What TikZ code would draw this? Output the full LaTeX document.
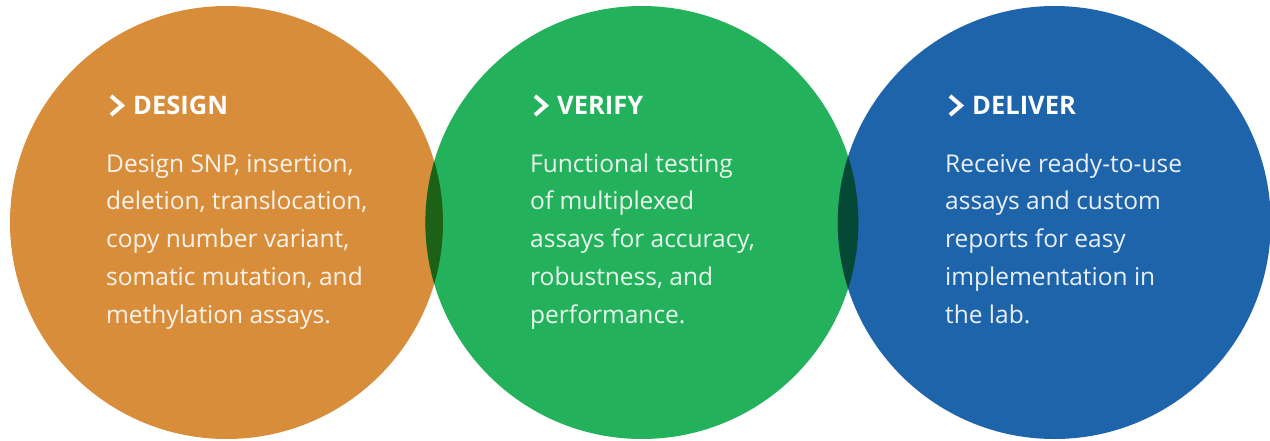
\documentclass[tikz,border=0pt]{standalone}
\usepackage{fontspec}
\setmainfont{Open Sans}
\usetikzlibrary{positioning}

\definecolor{designorange}{HTML}{D88D3B}
\definecolor{verifygreen}{HTML}{23B25B}
\definecolor{deliverblue}{HTML}{1E64AA}
\definecolor{overlapgreen}{HTML}{1C6116}
\definecolor{overlapteal}{HTML}{064836}

\begin{document}
\begin{tikzpicture}[x=1pt,y=-1pt,
  phase/.style={circle, minimum size=433pt, inner sep=0pt},
  phasetitle/.style={anchor=base west, inner sep=0pt, text=white,
    font=\bfseries\fontsize{25.5}{28}\selectfont},
  phasebody/.style={anchor=base west, inner sep=0pt, align=left,
    text=white, text opacity=0.9, font=\fontsize{24.5}{37.75}\selectfont},
  chevron/.style={white, line width=4pt, miter limit=10}]
  \useasboundingbox (0,0) rectangle (1270,440);

  % les trois disques
  \node[phase, fill=designorange] (design) at (226.5,222.5) {};
  \node[phase, fill=verifygreen, right=-18pt of design] (verify) {};
  \node[phase, fill=deliverblue, right=-21pt of verify] (deliver) {};

  % zones de recouvrement
  \begin{scope}
    \clip (design.center) circle (216.5);
    \fill[overlapgreen] (verify.center) circle (216.5);
  \end{scope}
  \begin{scope}
    \clip (verify.center) circle (216.5);
    \fill[overlapteal] (deliver.center) circle (216.5);
  \end{scope}

  % titres avec chevron
  \foreach \name/\x/\head in {design/133/DESIGN, verify/557/VERIFY, deliver/972/DELIVER}{
    \node[phasetitle] (\name title) at (\x,114) {\head};
    \draw[chevron] (\x-22,96) -- (\x-11,105.5) -- (\x-22,115);
  }

  % textes (ancre = ligne de base de la derniere ligne)
  \node[phasebody] (designtext) at (106,323) {Design SNP, insertion,\\deletion, translocation,\\copy number variant,\\somatic mutation, and\\methylation assays.};
  \node[phasebody] (verifytext) at (530,323) {Functional testing\\of multiplexed\\assays for accuracy,\\robustness, and\\performance.};
  \node[phasebody] (delivertext) at (945,323) {Receive ready-to-use\\assays and custom\\reports for easy\\implementation in\\the lab.};
\end{tikzpicture}
\end{document}
